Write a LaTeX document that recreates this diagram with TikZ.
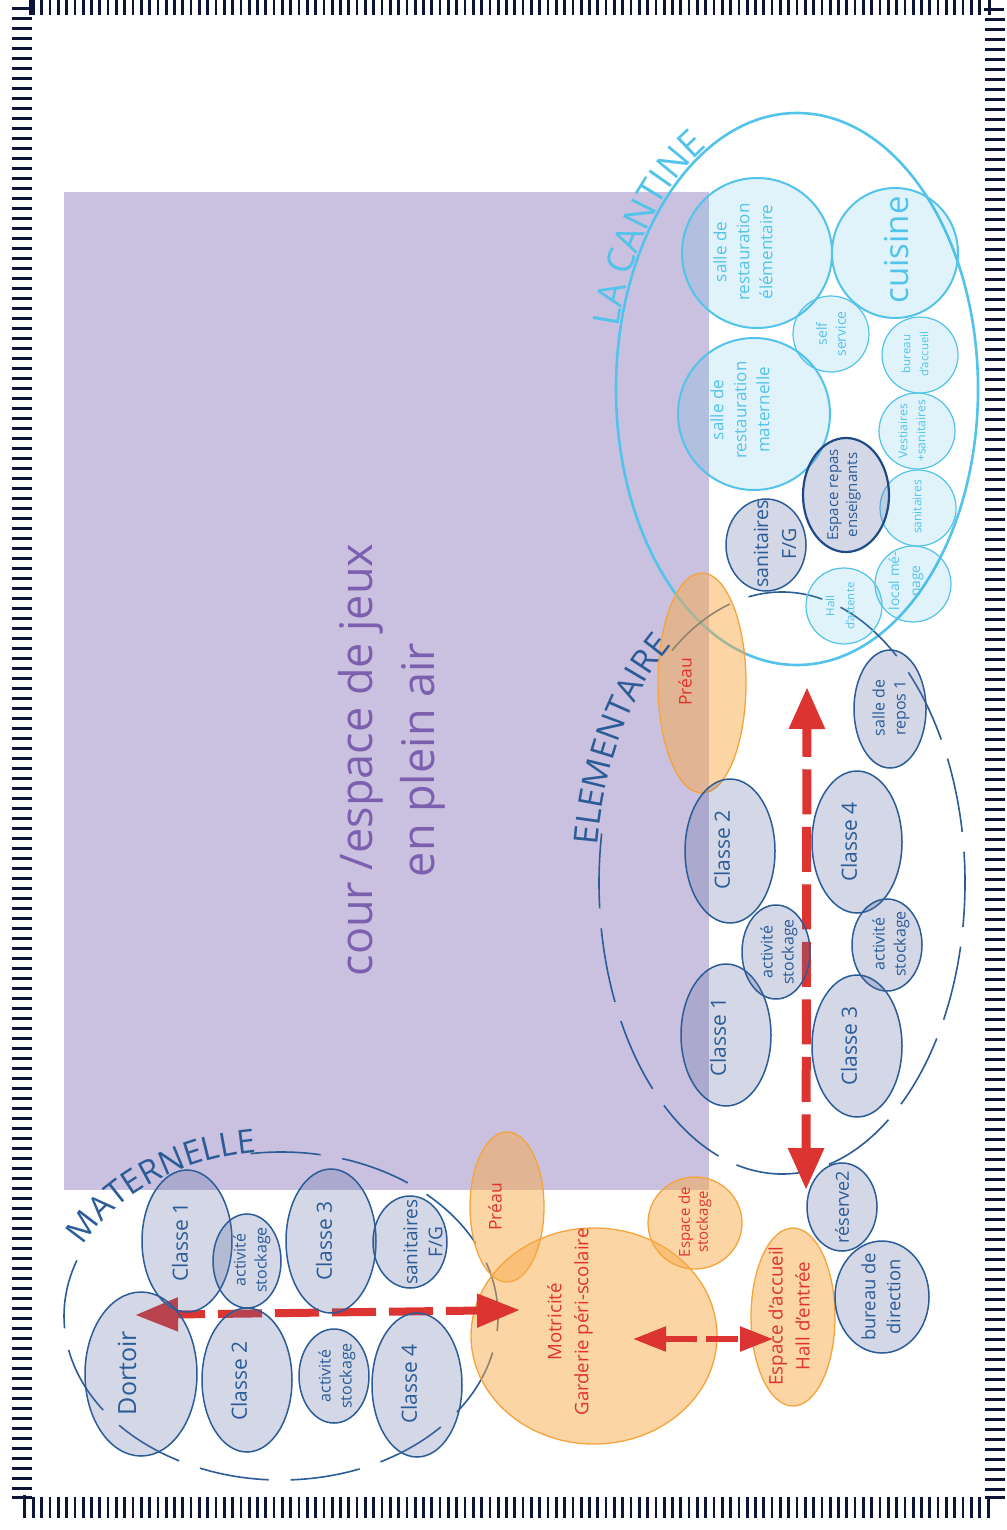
\documentclass[tikz,border=0pt]{standalone}
\usepackage{fontspec}
\setmainfont{Open Sans}
\usepackage{tikz}
\usetikzlibrary{arrows.meta,decorations.text}
\definecolor{planborder}{HTML}{0C1537}
\definecolor{courlilac}{HTML}{C9C1DF}
\definecolor{courtext}{HTML}{7C5FAE}
\definecolor{roomblue}{HTML}{2B5C97}
\definecolor{roomdark}{HTML}{1E4A86}
\definecolor{roomfill}{HTML}{5C6BA3}
\definecolor{cantcyan}{HTML}{52C3EA}
\definecolor{cantfill}{HTML}{3EB5E1}
\definecolor{periorange}{HTML}{F5A33B}
\definecolor{perifill}{HTML}{F9AB4B}
\definecolor{peritext}{HTML}{E0332E}
\definecolor{arrowred}{HTML}{DC3431}
\newcommand{\fsz}[2]{\fontsize{#1}{#2}\selectfont}

\begin{document}
\begin{tikzpicture}[x=1pt, y=-1pt,
  bluerm/.style={draw=roomblue, line width=1.5pt, fill=roomfill, fill opacity=.27},
  orangerm/.style={draw=periorange, line width=1.3pt, fill=perifill, fill opacity=.5},
  cyanrm/.style={draw=cantcyan, line width=1.2pt, fill=cantfill, fill opacity=.16},
  bluetxt/.style={text=roomblue, rotate=90, align=center, inner sep=0pt},
  redtxt/.style={text=peritext, rotate=90, align=center, inner sep=0pt},
  cyantxt/.style={text=cantcyan, rotate=90, align=center, inner sep=0pt},
  redarrow/.style={draw=arrowred}]
  \useasboundingbox (0,0) rectangle (1006,1530);

  % Cour
  \fill[courlilac] (64,192) rectangle (709,1190);

  % Group outlines
  \draw[cantcyan, line width=2.6pt] (797,389) ellipse [x radius=181, y radius=276];
  \draw[roomblue, line width=1.6pt, dash pattern=on 70pt off 22pt]
    (281,1316) ++(262:217 and 164) arc[start angle=262, end angle=564, x radius=217, y radius=164];
  \draw[roomblue, line width=1.6pt, dash pattern=on 75pt off 20pt]
    (782,883) ++(233:183 and 291) arc[start angle=233, end angle=551, x radius=183, y radius=291];

  % Periscolaire / accueil
  \filldraw[orangerm] (507,1207) ellipse [x radius=37, y radius=75];
  \filldraw[orangerm] (594,1336) ellipse [x radius=123, y radius=108];
  \filldraw[orangerm] (695,1223) ellipse [x radius=47, y radius=46];
  \filldraw[orangerm] (793,1317) ellipse [x radius=42, y radius=89];
  \filldraw[orangerm] (702,683) ellipse [x radius=44, y radius=110];

  % Cantine rooms
  \filldraw[cyanrm, line width=2pt] (757,253) circle [radius=75];
  \filldraw[cyanrm, line width=2pt] (895,253) ellipse [x radius=63, y radius=65];
  \filldraw[cyanrm, line width=2pt] (754,414) circle [radius=76];
  \filldraw[cyanrm] (831,334) circle [radius=38];
  \filldraw[cyanrm] (920,355) circle [radius=38];
  \filldraw[cyanrm] (917,431) circle [radius=38];
  \filldraw[cyanrm] (918,508) circle [radius=38];
  \filldraw[cyanrm] (913,584) circle [radius=38];
  \filldraw[cyanrm] (844,606) circle [radius=38];

  % Circulation arrows
  \coordinate (dortoirtip) at (135,1315);
  \coordinate (motritip) at (520,1310);
  \coordinate (reposN) at (807,687);
  \coordinate (reserveN) at (806,1190);
  \coordinate (motriE) at (633,1339);
  \coordinate (accueilW) at (773,1339);
  \draw[redarrow, line width=8pt, dash pattern=on 44pt off 13pt, dash phase=15pt,
    {Triangle[length=43pt,width=32pt]}-{Triangle[length=43pt,width=32pt]}] (dortoirtip) -- (motritip);
  \draw[redarrow, line width=9pt, dash pattern=on 45pt off 12.5pt, dash phase=15pt,
    {Triangle[length=42pt,width=34pt]}-{Triangle[length=42pt,width=34pt]}] (reposN) -- (reserveN);
  \draw[redarrow, line width=5.5pt, dash pattern=on 32pt off 9pt,
    {Triangle[length=33pt,width=24pt]}-{Triangle[length=33pt,width=24pt]}] (motriE) -- (accueilW);

  % Maternelle rooms
  \filldraw[bluerm] (187,1241) ellipse [x radius=45, y radius=71];
  \filldraw[bluerm] (247,1261) ellipse [x radius=34, y radius=47];
  \filldraw[bluerm] (331,1241) ellipse [x radius=45, y radius=72];
  \filldraw[bluerm] (410,1242) ellipse [x radius=37, y radius=46];
  \filldraw[bluerm] (141,1374) ellipse [x radius=56, y radius=82];
  \filldraw[bluerm] (247,1380) ellipse [x radius=45, y radius=72];
  \filldraw[bluerm] (334,1376) ellipse [x radius=35, y radius=47];
  \filldraw[bluerm] (417,1385) ellipse [x radius=45, y radius=72];
  \filldraw[bluerm] (842,1207) ellipse [x radius=35, y radius=44];
  \filldraw[bluerm] (882,1297) ellipse [x radius=47, y radius=56];

  % Elementaire rooms
  \filldraw[bluerm] (730,851) ellipse [x radius=45, y radius=72];
  \filldraw[bluerm] (726,1035) ellipse [x radius=45, y radius=71];
  \filldraw[bluerm] (776,952) ellipse [x radius=34, y radius=47];
  \filldraw[bluerm] (857,842) ellipse [x radius=45, y radius=71];
  \filldraw[bluerm] (887,945) ellipse [x radius=35, y radius=46];
  \filldraw[bluerm] (857,1046) ellipse [x radius=45, y radius=71];
  \filldraw[bluerm] (890,709) ellipse [x radius=36, y radius=59];
  \filldraw[bluerm] (766,545) ellipse [x radius=40, y radius=46];
  \filldraw[bluerm, draw=roomdark, line width=2.2pt] (846,495) ellipse [x radius=43, y radius=57];

  % Labels
  \node[text=courtext, rotate=90, align=center, inner sep=0pt, font=\fsz{45}{62}] (cour) at (392,760) {cour /espace de jeux\\en plein air};

  \node[bluetxt, font=\fsz{21}{25}] (mcl1) at (180,1242) {Classe 1};
  \node[bluetxt, font=\fsz{16}{21}] (mact1) at (252,1260) {activité\\stockage};
  \node[bluetxt, font=\fsz{21}{25}] (mcl3) at (324,1241) {Classe 3};
  \node[bluetxt, font=\fsz{19}{25}] (msan) at (423,1242) {sanitaires\\F/G};
  \node[bluetxt, font=\fsz{25}{30}] (mdort) at (127,1373) {Dortoir};
  \node[bluetxt, font=\fsz{21}{25}] (mcl2) at (239,1381) {Classe 2};
  \node[bluetxt, font=\fsz{16}{21}] (mact2) at (337,1376) {activité\\stockage};
  \node[bluetxt, font=\fsz{21}{25}] (mcl4) at (409,1384) {Classe 4};

  \node[redtxt, font=\fsz{17.5}{21}] (mpreau) at (495,1207) {Préau};
  \node[redtxt, font=\fsz{18.6}{27}] (motri) at (570,1322) {Motricité\\Garderie péri-scolaire};
  \node[redtxt, font=\fsz{15}{18}] (stock) at (695,1222) {Espace de\\stockage};
  \node[redtxt, font=\fsz{18.7}{27}] (accueil) at (789,1316) {Espace d'accueil\\Hall d'entrée};
  \node[bluetxt, font=\fsz{18}{22}] (reserve) at (842,1207) {réserve2};
  \node[bluetxt, font=\fsz{18.4}{25}] (direction) at (881,1297) {bureau de\\direction};

  \node[redtxt, font=\fsz{17.5}{21}] (epreau) at (685,682) {Préau};
  \node[bluetxt, font=\fsz{21}{25}] (ecl2) at (722,850) {Classe 2};
  \node[bluetxt, font=\fsz{21}{25}] (ecl1) at (718,1037) {Classe 1};
  \node[bluetxt, font=\fsz{16}{21}] (eact1) at (779,952) {activité\\stockage};
  \node[bluetxt, font=\fsz{21}{25}] (ecl4) at (849,842) {Classe 4};
  \node[bluetxt, font=\fsz{16}{21}] (eact2) at (891,944) {activité\\stockage};
  \node[bluetxt, font=\fsz{21}{25}] (ecl3) at (849,1046) {Classe 3};
  \node[bluetxt, font=\fsz{16}{21}] (repos) at (891,708) {salle de\\repos 1};
  \node[bluetxt, font=\fsz{19.5}{28}] (esan) at (775,544) {sanitaires\\F/G};
  \node[bluetxt, font=\fsz{15}{19}] (repas) at (844,495) {Espace repas\\enseignants};

  \node[cyantxt, font=\fsz{17}{23}] (restel) at (743,252) {salle de\\restauration\\élémentaire};
  \node[cyantxt, font=\fsz{17}{23}] (restmat) at (740,410) {salle de\\restauration\\maternelle};
  \node[cyantxt, font=\fsz{33}{36}] (cuisine) at (897,250) {cuisine};
  \node[cyantxt, font=\fsz{14}{19}] (self) at (831,334) {self\\service};
  \node[cyantxt, font=\fsz{11.5}{18}] (baccueil) at (915,354) {bureau\\d'accueil};
  \node[cyantxt, font=\fsz{12.2}{18}] (vest) at (912,431) {Vestiaires\\+sanitaires};
  \node[cyantxt, font=\fsz{12}{14}] (csan) at (917,507) {sanitaires};
  \node[cyantxt, font=\fsz{13.8}{21}] (menage) at (906,581) {local mé-\\nage};
  \node[cyantxt, font=\fsz{11.5}{20}] (hall) at (840,606) {Hall\\d'attente};

  % Curved group titles
  \path[decorate, decoration={text along path, text align=center,
      text={|\fsz{33}{33}\color{roomblue}|MATERNELLE}}]
    (281,1316) ++(193:218 and 165) arc[start angle=193, end angle=273, x radius=218, y radius=165];
  \path[decorate, decoration={text along path, text align=center,
      text={|\fsz{33.5}{33.5}\color{roomblue}|ELEMENTAIRE}}]
    (782,883) ++(174:186 and 296) arc[start angle=174, end angle=252, x radius=186, y radius=296];
  \path[decorate, decoration={text along path, text align=center,
      text={|\fsz{37}{37}\color{cantcyan}|LA CANTINE}}]
    (797,389) ++(181:183 and 278) arc[start angle=181, end angle=257, x radius=183, y radius=278];

  % Border
  \draw[planborder, line width=15pt, dash pattern=on 2.7pt off 5.6pt] (32,7.5) -- (986,7.5);
  \draw[planborder, line width=21pt, dash pattern=on 2.7pt off 5.6pt] (32,1507.5) -- (986,1507.5);
  \draw[planborder, line width=20pt, dash pattern=on 3.3pt off 6.7pt] (22,17) -- (22,1495);
  \draw[planborder, line width=20pt, dash pattern=on 3.3pt off 6.7pt] (995,18) -- (995,1494);
  \draw[planborder, line width=3pt] (12,8.5) -- (32,8.5) (30,0) -- (30,15);
  \draw[planborder, line width=3pt] (984,10) -- (1004,10) (989,0) -- (989,15);
  \draw[planborder, line width=3pt] (12,1497) -- (32,1497) (24,1495) -- (24,1518);
  \draw[planborder, line width=3pt] (985,1497) -- (1005,1497) (988,1496) -- (988,1518);
\end{tikzpicture}
\end{document}
